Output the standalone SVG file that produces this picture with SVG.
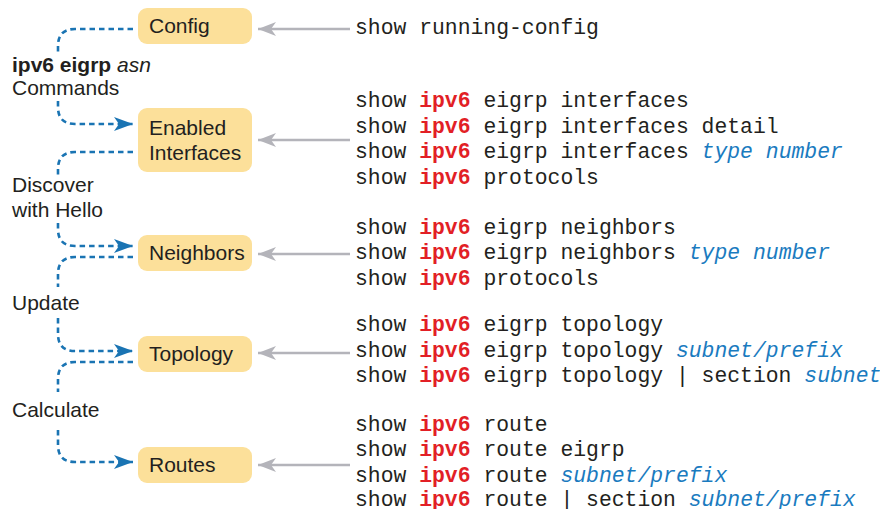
<svg xmlns="http://www.w3.org/2000/svg" width="880" height="509" viewBox="0 0 880 509">
<style>
.box{fill:#FCE09A}
.lbl{font-family:"Liberation Sans",Arial,sans-serif;font-size:21px;fill:#231F20}
.code{font-family:"Liberation Mono","Courier New",monospace;font-size:21.4px;fill:#231F20}
.r{fill:#E21F26;font-weight:bold}
.v{fill:#1A7BBF;font-style:italic}
.dot{fill:none;stroke:#1A74B3;stroke-width:2.6;stroke-dasharray:5.5 4}
.gray{fill:none;stroke:#B4B4BA;stroke-width:2.6}
</style>
<defs>
<marker id="ba" markerUnits="userSpaceOnUse" markerWidth="20" markerHeight="16" refX="19" refY="8" orient="auto" overflow="visible">
<path d="M0,1 L19,8 L0,15 L5,8 z" fill="#1A74B3"/>
</marker>
<marker id="ga" markerUnits="userSpaceOnUse" markerWidth="20" markerHeight="16" refX="18" refY="8" orient="auto" overflow="visible">
<path d="M0,1 L18,8 L0,15 L5,8 z" fill="#B4B4BA"/>
</marker>
</defs>

<g id="connectors">
<path class="dot" d="M133,29 H75 Q58,29 58,46 V52"/>
<path class="dot" d="M58,101 V107 Q58,124 75,124 H133" marker-end="url(#ba)"/>
<path class="dot" d="M133,152 H75 Q58,152 58,169 V176"/>
<path class="dot" d="M58,223 V229 Q58,246 75,246 H133" marker-end="url(#ba)"/>
<path class="dot" d="M133,257 H75 Q58,257 58,274 V287"/>
<path class="dot" d="M58,318 V334 Q58,351 75,351 H133" marker-end="url(#ba)"/>
<path class="dot" d="M133,362 H75 Q58,362 58,379 V392"/>
<path class="dot" d="M58,430 V445 Q58,462 75,462 H133" marker-end="url(#ba)"/>
<path class="gray" d="M350,29 H258" marker-end="url(#ga)"/>
<path class="gray" d="M350,140 H258" marker-end="url(#ga)"/>
<path class="gray" d="M350,254 H258" marker-end="url(#ga)"/>
<path class="gray" d="M350,353 H258" marker-end="url(#ga)"/>
<path class="gray" d="M350,465 H258" marker-end="url(#ga)"/>
</g>

<g id="node-config">
<rect class="box" x="138" y="8" width="114" height="36" rx="9"/>
<text class="lbl" x="149" y="33">Config</text>
</g>
<g id="node-enabled">
<rect class="box" x="138" y="108" width="114" height="64" rx="9"/>
<text class="lbl" x="149" y="135">Enabled</text>
<text class="lbl" x="149" y="160">Interfaces</text>
</g>
<g id="node-neighbors">
<rect class="box" x="138" y="235" width="114" height="36" rx="9"/>
<text class="lbl" x="149" y="260">Neighbors</text>
</g>
<g id="node-topology">
<rect class="box" x="138" y="336" width="114" height="36" rx="9"/>
<text class="lbl" x="149" y="361">Topology</text>
</g>
<g id="node-routes">
<rect class="box" x="138" y="447" width="114" height="36" rx="9"/>
<text class="lbl" x="149" y="472">Routes</text>
</g>

<g id="side-labels">
<text class="lbl" x="12" y="72"><tspan font-weight="bold">ipv6 eigrp</tspan> <tspan font-style="italic">asn</tspan></text>
<text class="lbl" x="12" y="95">Commands</text>
<text class="lbl" x="12" y="192">Discover</text>
<text class="lbl" x="12" y="217">with Hello</text>
<text class="lbl" x="12" y="310">Update</text>
<text class="lbl" x="12" y="417">Calculate</text>
</g>

<g id="commands">
<text class="code" x="355" y="34" xml:space="preserve">show running-config</text>
<text class="code" x="355" y="107" xml:space="preserve">show <tspan class="r">ipv6</tspan> eigrp interfaces</text>
<text class="code" x="355" y="133" xml:space="preserve">show <tspan class="r">ipv6</tspan> eigrp interfaces detail</text>
<text class="code" x="355" y="158" xml:space="preserve">show <tspan class="r">ipv6</tspan> eigrp interfaces <tspan class="v">type number</tspan></text>
<text class="code" x="355" y="184" xml:space="preserve">show <tspan class="r">ipv6</tspan> protocols</text>
<text class="code" x="355" y="234" xml:space="preserve">show <tspan class="r">ipv6</tspan> eigrp neighbors</text>
<text class="code" x="355" y="259" xml:space="preserve">show <tspan class="r">ipv6</tspan> eigrp neighbors <tspan class="v">type number</tspan></text>
<text class="code" x="355" y="285" xml:space="preserve">show <tspan class="r">ipv6</tspan> protocols</text>
<text class="code" x="355" y="331" xml:space="preserve">show <tspan class="r">ipv6</tspan> eigrp topology</text>
<text class="code" x="355" y="357" xml:space="preserve">show <tspan class="r">ipv6</tspan> eigrp topology <tspan class="v">subnet/prefix</tspan></text>
<text class="code" x="355" y="382" xml:space="preserve">show <tspan class="r">ipv6</tspan> eigrp topology | section <tspan class="v">subnet</tspan></text>
<text class="code" x="355" y="431" xml:space="preserve">show <tspan class="r">ipv6</tspan> route</text>
<text class="code" x="355" y="456" xml:space="preserve">show <tspan class="r">ipv6</tspan> route eigrp</text>
<text class="code" x="355" y="482" xml:space="preserve">show <tspan class="r">ipv6</tspan> route <tspan class="v">subnet/prefix</tspan></text>
<text class="code" x="355" y="506" xml:space="preserve">show <tspan class="r">ipv6</tspan> route | section <tspan class="v">subnet/prefix</tspan></text>
</g>
</svg>
